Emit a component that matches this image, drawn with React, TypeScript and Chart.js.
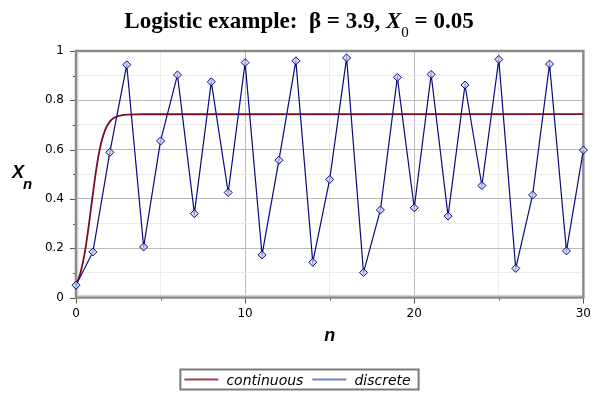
import { useEffect, useRef } from "react";
import { Chart, registerables } from "chart.js";

Chart.register(...registerables);

// ---- data ----
const nValues = [0, 1, 2, 3, 4, 5, 6, 7, 8, 9, 10, 11, 12, 13, 14, 15, 16, 17, 18, 19, 20, 21, 22, 23, 24, 25, 26, 27, 28, 29, 30];
const discreteValues = [0.05, 0.185, 0.589, 0.944, 0.205, 0.635, 0.903, 0.34, 0.875, 0.426, 0.953, 0.173, 0.557, 0.96, 0.143, 0.479, 0.972, 0.101, 0.355, 0.893, 0.364, 0.905, 0.33, 0.862, 0.454, 0.966, 0.118, 0.416, 0.947, 0.189, 0.598];
const continuousT = [0, 0.25, 0.5, 0.75, 1, 1.25, 1.5, 1.75, 2, 2.25, 2.5, 2.75, 3, 3.5, 4, 30];
const continuousValues = [0.05, 0.0963, 0.1748, 0.2887, 0.4217, 0.5429, 0.6306, 0.6843, 0.7136, 0.7288, 0.7363, 0.7401, 0.7419, 0.7432, 0.7435, 0.7436];
const xTickLabels = ["0", "10", "20", "30"];
const yTickLabels = ["0", "0.2", "0.4", "0.6", "0.8", "1"];
const seriesNames = ["continuous", "discrete"];

const RED = "#7e0a22";
const NAVY = "#0a0a80";

const decorPlugin = {
  id: "decor",
  beforeDatasetsDraw(chart: any) {
    const { ctx, chartArea: a, scales } = chart;
    const xs = scales.x;
    const ys = scales.y;
    ctx.save();
    // tick marks
    ctx.strokeStyle = "#555";
    ctx.lineWidth = 1;
    for (let v = 0; v <= 30; v += 5) {
      const px = Math.round(xs.getPixelForValue(v)) + 0.5;
      const len = v % 10 === 0 ? 6 : 3;
      ctx.beginPath();
      ctx.moveTo(px, a.bottom);
      ctx.lineTo(px, a.bottom + len);
      ctx.stroke();
    }
    for (let k = 0; k <= 10; k++) {
      const py = Math.round(ys.getPixelForValue(k / 10)) + 0.5;
      const len = k % 2 === 0 ? 6 : 3;
      ctx.beginPath();
      ctx.moveTo(a.left - len, py);
      ctx.lineTo(a.left, py);
      ctx.stroke();
    }
    // frame
    ctx.strokeStyle = "#8a8a8a";
    ctx.lineWidth = 2.5;
    ctx.strokeRect(a.left, a.top, a.right - a.left, a.bottom - a.top);
    ctx.strokeStyle = "#d2d2d2";
    ctx.lineWidth = 1.2;
    ctx.beginPath();
    ctx.moveTo(a.left + 1.8, a.top + 1.5);
    ctx.lineTo(a.left + 1.8, a.bottom - 1.8);
    ctx.lineTo(a.right - 1.5, a.bottom - 1.8);
    ctx.stroke();
    ctx.restore();
  },
  afterDraw(chart: any) {
    const { ctx, chartArea: a } = chart;
    ctx.save();
    ctx.fillStyle = "#000";
    ctx.textBaseline = "alphabetic";
    ctx.textAlign = "left";
    // title
    const fBold = "bold 23px 'Liberation Serif', 'Times New Roman', serif";
    const fBoldIt = "italic bold 23px 'Liberation Serif', 'Times New Roman', serif";
    const fSub = "15px 'Liberation Serif', 'Times New Roman', serif";
    const parts: [string, string, number][] = [
      ["Logistic example:  \u03b2 = 3.9, ", fBold, 0],
      ["X", fBoldIt, 0],
      ["0", fSub, 9],
      [" = 0.05", fBold, 0],
    ];
    let total = 0;
    const widths: number[] = [];
    for (const [t, f] of parts) {
      ctx.font = f;
      const w = ctx.measureText(t).width;
      widths.push(w);
      total += w;
    }
    let x = 299 - total / 2;
    const base = 28;
    parts.forEach(([t, f, dy], i) => {
      ctx.font = f;
      ctx.fillText(t, x, base + dy);
      x += widths[i];
    });
    // y axis label
    ctx.font = "italic bold 18px 'Liberation Sans', Arial, sans-serif";
    ctx.fillText("X", 12, 178);
    ctx.font = "italic bold 15px 'Liberation Sans', Arial, sans-serif";
    ctx.fillText("n", 23, 189);
    // x axis label
    ctx.font = "italic bold 18px 'Liberation Sans', Arial, sans-serif";
    ctx.textAlign = "center";
    ctx.fillText("n", (a.left + a.right) / 2, 341);
    // legend
    ctx.textAlign = "left";
    ctx.font = "italic 14px 'DejaVu Sans', sans-serif";
    const w1 = ctx.measureText(seriesNames[0]).width;
    const w2 = ctx.measureText(seriesNames[1]).width;
    const lineLen = 34;
    const boxW = 4 + lineLen + 8 + w1 + 9 + lineLen + 8 + w2 + 8;
    const boxL = 299.5 - boxW / 2;
    const boxT = 369.5;
    const boxH = 20;
    const cy = boxT + boxH / 2;
    ctx.strokeStyle = "#7a7a7a";
    ctx.lineWidth = 2;
    ctx.strokeRect(boxL, boxT, boxW, boxH);
    let lx = boxL + 4;
    ctx.lineWidth = 2;
    ctx.strokeStyle = "#a3404e";
    ctx.beginPath();
    ctx.moveTo(lx, cy);
    ctx.lineTo(lx + lineLen, cy);
    ctx.stroke();
    lx += lineLen + 8;
    ctx.fillStyle = "#000";
    ctx.fillText(seriesNames[0], lx, cy + 5);
    lx += w1 + 9;
    ctx.strokeStyle = "#7480c4";
    ctx.beginPath();
    ctx.moveTo(lx, cy);
    ctx.lineTo(lx + lineLen, cy);
    ctx.stroke();
    lx += lineLen + 8;
    ctx.fillText(seriesNames[1], lx, cy + 5);
    ctx.restore();
  },
};

export default function App() {
  const ref = useRef<HTMLCanvasElement>(null);
  useEffect(() => {
    if (!ref.current) return;
    Chart.defaults.font.family = "'DejaVu Sans', sans-serif";
    const chart = new Chart(ref.current, {
      type: "line",
      data: {
        datasets: [
          {
            label: seriesNames[1],
            data: nValues.map((n, i) => ({ x: n, y: discreteValues[i] })),
            borderColor: NAVY,
            borderWidth: 1.2,
            pointStyle: "rectRot",
            pointRadius: 4,
            pointBorderWidth: 1,
            pointBorderColor: NAVY,
            pointBackgroundColor: "rgba(205,210,245,0.7)",
            tension: 0,
            clip: false as any,
          },
          {
            label: seriesNames[0],
            data: continuousT.map((t, i) => ({ x: t, y: continuousValues[i] })),
            borderColor: RED,
            borderWidth: 1.8,
            pointRadius: 0,
            cubicInterpolationMode: "monotone",
          },
        ],
      },
      options: {
        animation: false,
        responsive: false,
        maintainAspectRatio: false,
        devicePixelRatio: 1,
        layout: { padding: { top: 51, right: 15, left: 0, bottom: 0 } },
        plugins: { legend: { display: false }, title: { display: false }, tooltip: { enabled: false } },
        scales: {
          x: {
            type: "linear",
            min: 0,
            max: 30,
            ticks: {
              stepSize: 5,
              autoSkip: false,
              maxRotation: 0,
              padding: 9,
              color: "#000",
              font: { size: 12 },
              callback: (v: any) => (Number(v) % 10 === 0 ? xTickLabels[Number(v) / 10] : ""),
            },
            grid: {
              drawTicks: false,
              color: (c: any) => (c.tick && c.tick.value % 10 === 0 ? "#b9b9b9" : "#ececec"),
              lineWidth: 1,
            },
            border: { display: false },
            afterFit: (s: any) => {
              s.height = 102.5;
            },
          },
          y: {
            type: "linear",
            min: 0,
            max: 1,
            ticks: {
              stepSize: 0.1,
              autoSkip: false,
              padding: 12,
              color: "#000",
              font: { size: 12 },
              callback: (v: any) => {
                const k = Math.round(Number(v) * 10);
                return k % 2 === 0 ? yTickLabels[k / 2] : "";
              },
            },
            grid: {
              drawTicks: false,
              color: (c: any) => (c.tick && Math.round(c.tick.value * 10) % 2 === 0 ? "#b9b9b9" : "#ececec"),
              lineWidth: 1,
            },
            border: { display: false },
            afterFit: (s: any) => {
              s.width = 76;
            },
          },
        },
      },
      plugins: [decorPlugin],
    });
    return () => chart.destroy();
  }, []);
  return (
    <div style={{ position: "fixed", left: 0, top: 0, width: 600, height: 400, background: "#fff" }}>
      <canvas ref={ref} width={600} height={400} />
    </div>
  );
}
